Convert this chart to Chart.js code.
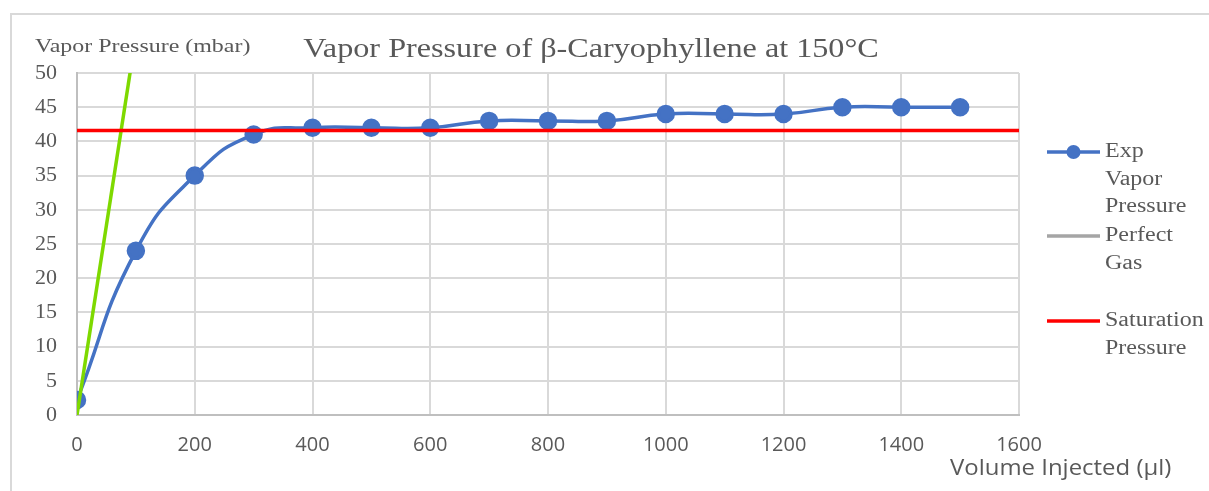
<!DOCTYPE html>
<html>
<head>
<meta charset="utf-8">
<script src="https://cdn.jsdelivr.net/npm/chart.js@4.4.1/dist/chart.umd.min.js"></script>
<style>
  html, body { margin:0; padding:0; background:#fff; }
  #wrap { position:relative; width:1209px; height:491px; }
</style>
</head>
<body>
<div id="wrap"><canvas id="vp" width="1209" height="491"></canvas></div>
<script>
// data
const volumes   = [0, 100, 200, 300, 400, 500, 600, 700, 800, 900, 1000, 1100, 1200, 1300, 1400, 1500];
const expVapor  = [2.2, 24, 35, 41, 42, 42, 42, 43, 43, 43, 44, 44, 44, 45, 45, 45];
const gasVolume = [0, 100];
const gasPress  = [0, 55.5];
const satVolume = [0, 1600];
const satPress  = [41.6, 41.6];
const xTicks = [0, 200, 400, 600, 800, 1000, 1200, 1400, 1600];
const yTicks = [0, 5, 10, 15, 20, 25, 30, 35, 40, 45, 50];

const BLUE = "#4472C4", GREEN = "#7ED900", RED = "#FF0000", GREY = "#A5A5A5", TXT = "#595959";
const SERIF = "'Liberation Serif', 'Times New Roman', serif";
const SANS = "'Open Sans', 'Liberation Sans', sans-serif";

const pts = (xs, ys) => xs.map((x,i)=>({x, y: ys[i]}));

// the source text is a bit wider than our fonts, so stretch it horizontally
function wideText(c, t, x, y, sx){
  c.save();
  c.translate(x, y);
  c.scale(sx, 1);
  c.fillText(t, 0, 0);
  c.restore();
}

// titles, frame and wrapped legend
const decor = {
  id: "decor",
  beforeDraw(chart){
    const c = chart.ctx;
    c.save();
    c.strokeStyle = "#d9d9d9"; c.lineWidth = 2;
    c.beginPath(); c.moveTo(11, 491); c.lineTo(11, 14); c.lineTo(1209, 14); c.stroke();
    c.restore();
  },
  afterDraw(chart){
    const c = chart.ctx;
    c.save();
    c.fillStyle = TXT;
    c.textBaseline = "middle";
    c.textAlign = "center";
    c.font = "28px " + SERIF;
    wideText(c, "Vapor Pressure of β-Caryophyllene at 150°C", 591, 50, 1.15);
    c.textAlign = "left";
    c.font = "19px " + SERIF;
    wideText(c, "Vapor Pressure (mbar)", 35, 47, 1.26);
    c.font = "21px " + SANS;
    wideText(c, "Volume Injected (µl)", 950, 469, 1.14);

    // legend
    c.font = "20px " + SERIF;
    const lx = 1105, ls = 1047, le = 1100;
    const entries = [
      {color: BLUE, marker: true, y: 152, lines: ["Exp", "Vapor", "Pressure"]},
      {color: GREY, marker: false, y: 236, lines: ["Perfect", "Gas"]},
      {color: RED, marker: false, y: 321, lines: ["Saturation", "Pressure"]}
    ];
    entries.forEach(e=>{
      c.strokeStyle = e.color; c.lineWidth = 3.5;
      c.beginPath(); c.moveTo(ls, e.y); c.lineTo(le, e.y); c.stroke();
      if(e.marker){
        c.fillStyle = e.color;
        c.beginPath(); c.arc((ls+le)/2, e.y, 7, 0, Math.PI*2); c.fill();
      }
      c.fillStyle = TXT;
      e.lines.forEach((t,i)=> wideText(c, t, lx, e.y + i*27.5, 1.2));
    });
    c.restore();
  }
};

new Chart(document.getElementById("vp"), {
  type: "scatter",
  data: {
    datasets: [
      { label: "Exp Vapor Pressure", data: pts(volumes, expVapor), showLine: true,
        borderColor: BLUE, backgroundColor: BLUE, borderWidth: 3.5, pointRadius: 7.5,
        pointHoverRadius: 7.5, tension: 0.5, order: 2 },
      { label: "Perfect Gas", data: pts(gasVolume, gasPress), showLine: true,
        borderColor: GREEN, backgroundColor: GREEN, borderWidth: 3.5, pointRadius: 0, order: 1 },
      { label: "Saturation Pressure", data: pts(satVolume, satPress), showLine: true,
        borderColor: RED, backgroundColor: RED, borderWidth: 3.5, pointRadius: 0, order: 0 }
    ]
  },
  options: {
    responsive: false,
    animation: false,
    events: [],
    layout: { padding: { left: 0, top: 73, right: 190, bottom: 0 } },
    plugins: { legend: { display: false }, title: { display: false }, tooltip: { enabled: false } },
    scales: {
      x: {
        type: "linear", min: 0, max: 1600,
        afterBuildTicks: s => { s.ticks = xTicks.map(v=>({value:v})); },
        afterFit: s => { s.height = 76; },
        grid: { color: "#d9d9d9", lineWidth: 2, drawTicks: false },
        border: { color: "#bfbfbf", width: 2 },
        ticks: { color: TXT, font: { family: SANS, size: 20 }, padding: 18, maxRotation: 0,
                 callback: v => String(v) }
      },
      y: {
        min: 0, max: 50,
        afterBuildTicks: s => { s.ticks = yTicks.map(v=>({value:v})); },
        afterFit: s => { s.width = 77; },
        grid: { color: "#d9d9d9", lineWidth: 2, drawTicks: false },
        border: { color: "#bfbfbf", width: 2 },
        ticks: { color: TXT, font: { family: SERIF, size: 22 }, padding: 20 }
      }
    }
  },
  plugins: [decor]
});
</script>
</body>
</html>
